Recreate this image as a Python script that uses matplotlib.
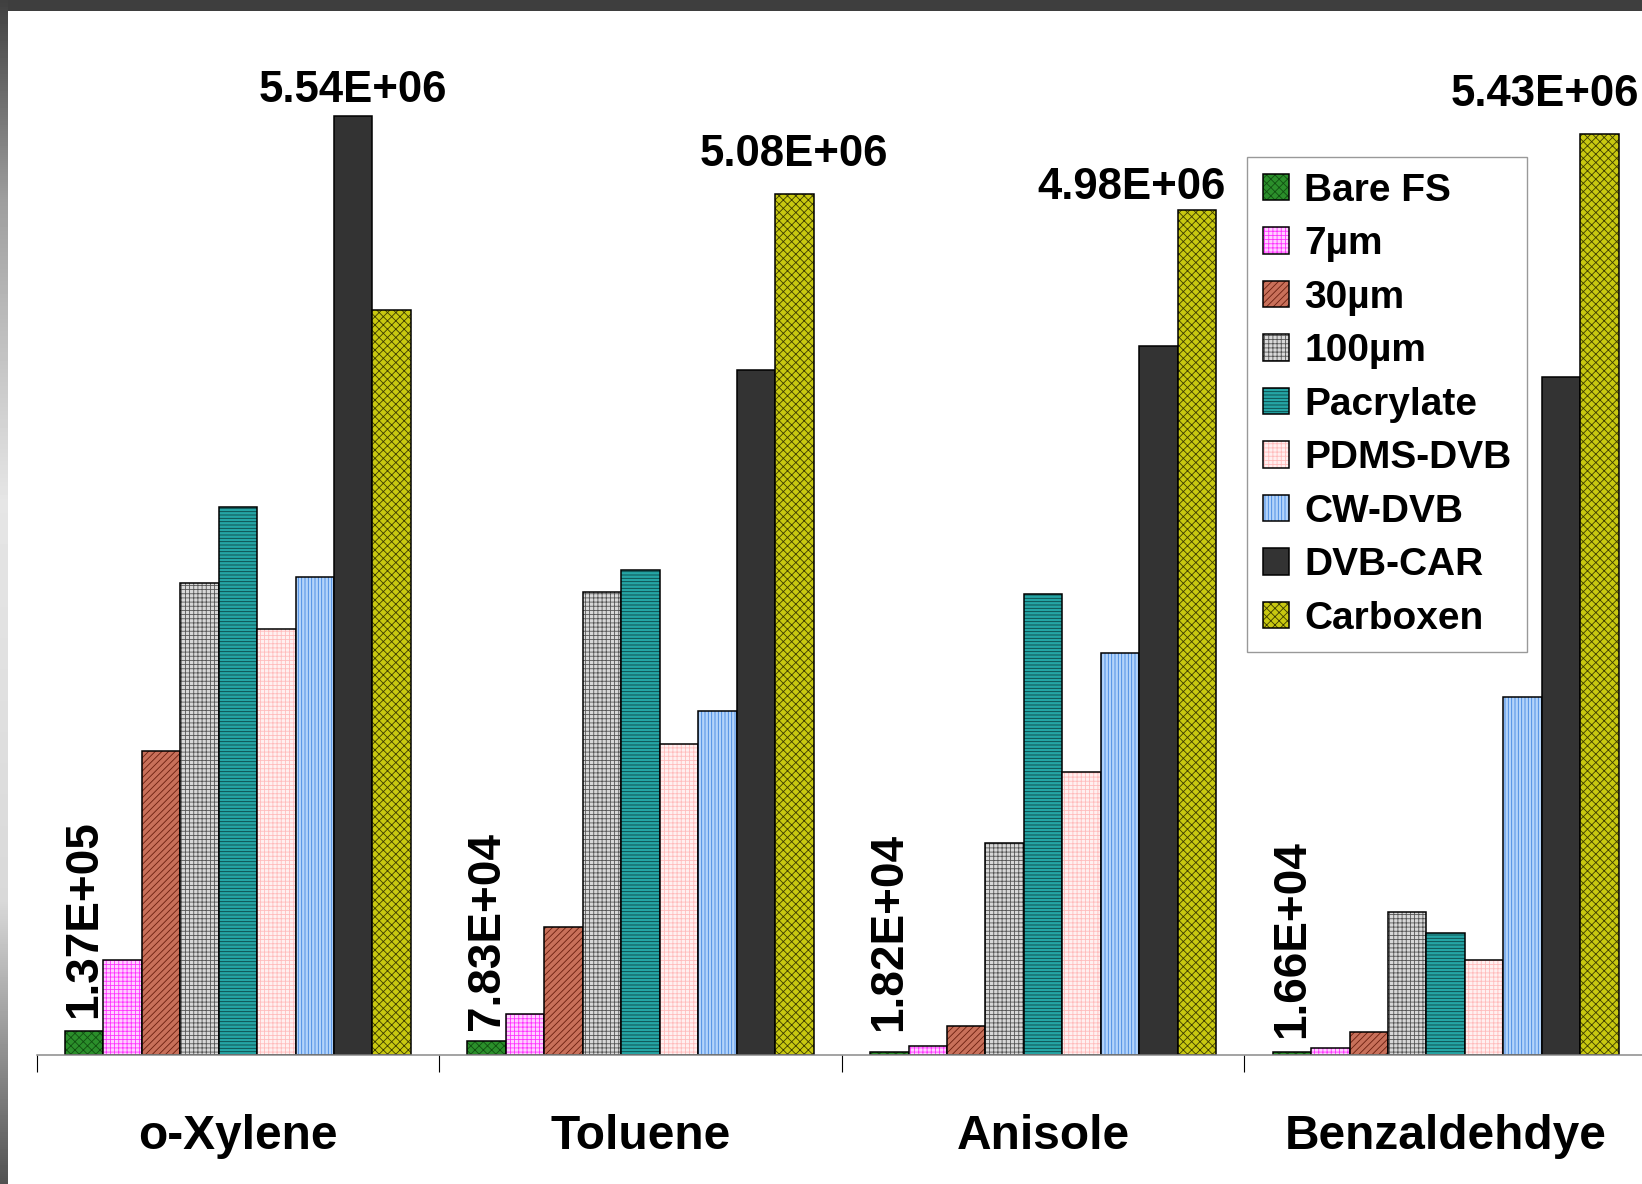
import numpy as np
import matplotlib
matplotlib.use("Agg")
import matplotlib.pyplot as plt
from matplotlib.patches import Patch

# categories and series
compounds = ["o-Xylene", "Toluene", "Anisole", "Benzaldehdye"]
fibers = ["Bare FS", "7µm", "30µm", "100µm", "Pacrylate",
          "PDMS-DVB", "CW-DVB", "DVB-CAR", "Carboxen"]

bare_fs = [1.37e5, 7.83e4, 1.82e4, 1.66e4]
um7 = [5.6e5, 2.4e5, 5.0e4, 3.7e4]
um30 = [1.79e6, 7.5e5, 1.67e5, 1.36e5]
um100 = [2.78e6, 2.73e6, 1.25e6, 8.4e5]
pacrylate = [3.23e6, 2.86e6, 2.72e6, 7.2e5]
pdms_dvb = [2.51e6, 1.83e6, 1.67e6, 5.6e5]
cw_dvb = [2.82e6, 2.03e6, 2.37e6, 2.11e6]
dvb_car = [5.54e6, 4.04e6, 4.18e6, 4.00e6]
carboxen = [4.39e6, 5.08e6, 4.98e6, 5.43e6]

series = [bare_fs, um7, um30, um100, pacrylate, pdms_dvb, cw_dvb, dvb_car, carboxen]

# face colour, hatch, hatch colour
styles = [
    ("#2b8f2b", "xxxx", "#115011"),
    ("#ffd0ff", "++++", "#ff33ff"),
    ("#c8705a", "/////", "#6a1e0e"),
    ("#d8d8d8", "++++", "#555555"),
    ("#25a5a5", "-----", "#0b4545"),
    ("#fff0f0", "++++", "#ffbcbc"),
    ("#b4d4fa", "|||||", "#3f85e0"),
    ("#333333", "", "#333333"),
    ("#c8c810", "xxxx", "#3c3c00"),
]

# label nudges in points: (dx, dy) for the top labels, dy for the rotated ones
top_nudge = [(0, 9.5), (0, 20), (-47, 8), (-39, 20)]
rot_nudge = [9.5, 8.5, 15, 10]

plt.rcParams["font.family"] = ["Liberation Sans", "DejaVu Sans"]
plt.rcParams["font.weight"] = "bold"
plt.rcParams["hatch.linewidth"] = 0.6

W, H = 1642, 1184
fig = plt.figure(figsize=(W / 100, H / 100), dpi=100)
fig.patch.set_facecolor("white")

# frame decoration: dark top band and gradient left band
top = fig.add_axes([0, 1 - 11 / H, 1, 11 / H])
top.set_facecolor("#3e3e3e")
top.set_xticks([])
top.set_yticks([])
for s in top.spines.values():
    s.set_visible(False)

left = fig.add_axes([0, 0, 8 / W, 1])
stops_y = [0, 200, 500, 900, 1184]
stops_v = [0.25, 0.62, 0.90, 0.85, 0.32]
grad = np.interp(np.arange(H), stops_y, stops_v)[:, None]
left.imshow(grad, cmap="gray", vmin=0, vmax=1, aspect="auto")
left.axis("off")

ax = fig.add_axes([36.6 / W, 129.4 / H, 1610.4 / W, 1017 / H])
ax.set_xlim(-0.5, 3.5)
ax.set_ylim(0, 6e6)

x = np.arange(len(compounds))
width = 0.0955
n = len(series)
handles = []
for i, (vals, name, (fc, hatch, hc)) in enumerate(zip(series, fibers, styles)):
    pos = x + (i - (n - 1) / 2) * width
    ax.bar(pos, vals, width, color=fc, hatch=hatch, edgecolor=hc, linewidth=0)
    ax.bar(pos, vals, width, fill=False, edgecolor="black", linewidth=1.1)
    handles.append((Patch(facecolor=fc, hatch=hatch, edgecolor=hc, linewidth=0),
                    Patch(fill=False, edgecolor="black", linewidth=1.1)))

# rotated labels on the Bare FS bars
for j, v in enumerate(bare_fs):
    px = x[j] - (n - 1) / 2 * width
    ax.annotate(f"{v:.2E}", (px, v), xytext=(0, rot_nudge[j]),
                textcoords="offset points", rotation=90, ha="center",
                va="bottom", fontsize=33, fontweight="bold")

# value of the tallest bar in each group
for j in range(len(compounds)):
    vals = [s[j] for s in series]
    k = int(np.argmax(vals))
    px = x[j] + (k - (n - 1) / 2) * width
    dx, dy = top_nudge[j]
    ax.annotate(f"{vals[k]:.2E}", (px, vals[k]), xytext=(dx, dy),
                textcoords="offset points", ha="center", va="baseline",
                fontsize=31.5, fontweight="bold", annotation_clip=False)

for s in ["top", "right", "left"]:
    ax.spines[s].set_visible(False)
ax.spines["bottom"].set_color("#8a8a8a")
ax.spines["bottom"].set_linewidth(1.1)
ax.set_yticks([])
ax.set_xticks(x)
ax.set_xticklabels(compounds, fontsize=34.5, fontweight="bold")
ax.tick_params(axis="x", which="major", length=0, pad=43)
ax.set_xticks(np.arange(-0.5, 3.6, 1.0), minor=True)
ax.tick_params(axis="x", which="minor", length=12, width=0.8, color="black")

leg = fig.legend(handles, fibers, loc="upper left",
                 bbox_to_anchor=(1247 / W, 1 - 157 / H),
                 prop={"size": 28, "weight": "bold"},
                 handlelength=0.67, handleheight=0.67, handletextpad=0.4,
                 labelspacing=0.45, borderpad=0.4, borderaxespad=0,
                 fancybox=False, frameon=True)
leg.get_frame().set_edgecolor("#808080")
leg.get_frame().set_linewidth(1.0)

fig.savefig("out.png", dpi=100)
